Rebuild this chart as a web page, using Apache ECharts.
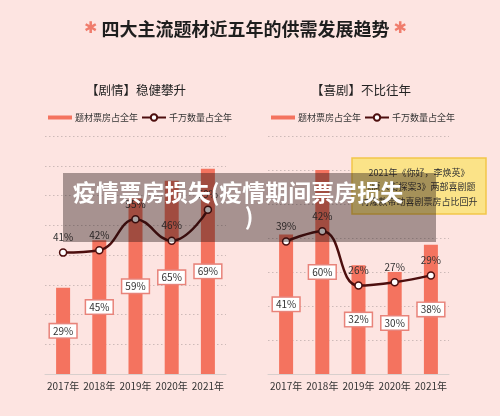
<!DOCTYPE html>
<html>
<head>
<meta charset="utf-8">
<script src="https://cdn.jsdelivr.net/npm/echarts@6/dist/echarts.min.js"></script>
<style>
html,body{margin:0;padding:0;background:#fde4e1;}
#main{width:500px;height:416px;}
</style>
</head>
<body>
<div id="main"></div>
<script>
const years = ['2017年','2018年','2019年','2020年','2021年'];
const dramaBox = [29, 45, 59, 65, 69];
const dramaCount = [41, 42, 55, 46, 59];
const comedyBox = [41, 60, 32, 30, 38];
const comedyCount = [39, 42, 26, 27, 29];
const boxName = '题材票房占全年';
const countName = '千万数量占全年';
const noteLines = ['2021年《你好，李焕英》', '《唐人街探案3》两部喜剧题', '材爆款带动喜剧票房占比回升'];

const FONT = '"Noto Sans CJK SC", "Noto Sans", sans-serif';
const BAR = '#f4735f';
const LINE = '#4d0e0e';

const chart = echarts.init(document.getElementById('main'), null, {renderer: 'canvas'});

function barSeries(data, xi, yi) {
  return {
    name: boxName, type: 'bar', xAxisIndex: xi, yAxisIndex: yi, data: data,
    barWidth: 14, itemStyle: {color: BAR},
    label: {
      show: true, position: 'inside', formatter: '{c}%',
      fontFamily: FONT, fontSize: 10, color: '#333',
      backgroundColor: '#fff', borderColor: '#e8837a', borderWidth: 1.5,
      padding: [2, 3, 1, 3]
    },
    z: 2
  };
}
function lineSeries(data, xi, yi) {
  return {
    name: countName, type: 'line', xAxisIndex: xi, yAxisIndex: yi, data: data,
    smooth: 0.45, symbol: 'circle', symbolSize: 7,
    lineStyle: {color: LINE, width: 2.5},
    itemStyle: {color: '#fff', borderColor: LINE, borderWidth: 1.5},
    label: {show: true, position: 'top', distance: 6, formatter: '{c}%',
      fontFamily: FONT, fontSize: 10, color: '#333'},
    z: 3
  };
}
const xAxisCommon = {
  type: 'category', data: years,
  axisLine: {lineStyle: {color: '#d8cfcd', width: 1}},
  axisTick: {show: false},
  axisLabel: {fontFamily: FONT, fontSize: 10, color: '#333', margin: 7, interval: 0}
};
const splitCommon = {show: true, lineStyle: {color: '#cdbab8', type: [1.5, 2.5], width: 1}};

const legendData = [
  {name: boxName, icon: 'path://M0,0M24,8M0,2h24v4h-24z'},
  {name: countName}
];
function legend(left) {
  return {
    left: left, top: 108, itemWidth: 24, itemHeight: 8, itemGap: 3,
    textStyle: {fontFamily: FONT, fontSize: 9, color: '#333', padding: [0, 0, 0, -2]},
    data: legendData, selectedMode: false
  };
}

chart.setOption({
  backgroundColor: '#fde4e1',
  animation: false,
  title: [
    {
      text: '{a|✱} 四大主流题材近五年的供需发展趋势 {a|✱}',
      left: 79, top: 15,
      textStyle: {
        fontFamily: FONT, fontSize: 18, fontWeight: 'bold', color: '#1e1e1e',
        rich: {a: {color: '#f07c6c', fontSize: 16, fontWeight: 'bold', fontFamily: '"DejaVu Sans", sans-serif'}}
      }
    },
    {text: '【剧情】稳健攀升', left: 81, top: 79,
      textStyle: {fontFamily: FONT, fontSize: 12.5, fontWeight: 'normal', color: '#222'}},
    {text: '【喜剧】不比往年', left: 306, top: 79,
      textStyle: {fontFamily: FONT, fontSize: 12.5, fontWeight: 'normal', color: '#222'}}
  ],
  legend: [legend(43), legend(266)],
  grid: [
    {left: 45, width: 181, top: 136, bottom: 42},
    {left: 268, width: 181, top: 136, bottom: 42}
  ],
  xAxis: [
    Object.assign({gridIndex: 0}, xAxisCommon),
    Object.assign({gridIndex: 1}, xAxisCommon)
  ],
  yAxis: [
    {type: 'value', gridIndex: 0, min: 0, max: 80, interval: 10,
      axisLabel: {show: false}, axisLine: {show: false}, axisTick: {show: false}, splitLine: splitCommon},
    {type: 'value', gridIndex: 0, min: -10, max: 90, interval: 10, show: false, splitLine: {show: false}},
    {type: 'value', gridIndex: 1, min: 0, max: 70, interval: 10,
      axisLabel: {show: false}, axisLine: {show: false}, axisTick: {show: false}, splitLine: splitCommon}
  ],
  series: [
    barSeries(dramaBox, 0, 0),
    lineSeries(dramaCount, 0, 1),
    barSeries(comedyBox, 1, 2),
    lineSeries(comedyCount, 1, 2)
  ],
  graphic: [
    {type: 'rect', z: 50, shape: {x: 352, y: 158, width: 134, height: 56},
      style: {fill: '#fbe388', stroke: '#f2c64a', lineWidth: 1.5}},
    {type: 'text', z: 51, style: {text: noteLines.join('\n'), x: 419, y: 187,
      align: 'center', verticalAlign: 'middle', lineHeight: 14.4,
      font: '9px "Noto Sans CJK SC"', fill: '#333'}},
    {type: 'rect', z: 100, shape: {x: 63, y: 173, width: 373, height: 69},
      style: {fill: 'rgba(25,12,12,0.38)'}},
    {type: 'text', z: 101, style: {text: '疫情票房损失(疫情期间票房损失', x: 238, y: 192,
      align: 'center', verticalAlign: 'middle',
      font: 'bold 23px "Noto Sans CJK SC"', fill: '#fff'}},
    {type: 'text', z: 101, style: {text: ')', x: 249, y: 216,
      align: 'center', verticalAlign: 'middle',
      font: 'bold 23px "Noto Sans CJK SC"', fill: '#fff'}}
  ]
});
</script>
</body>
</html>
